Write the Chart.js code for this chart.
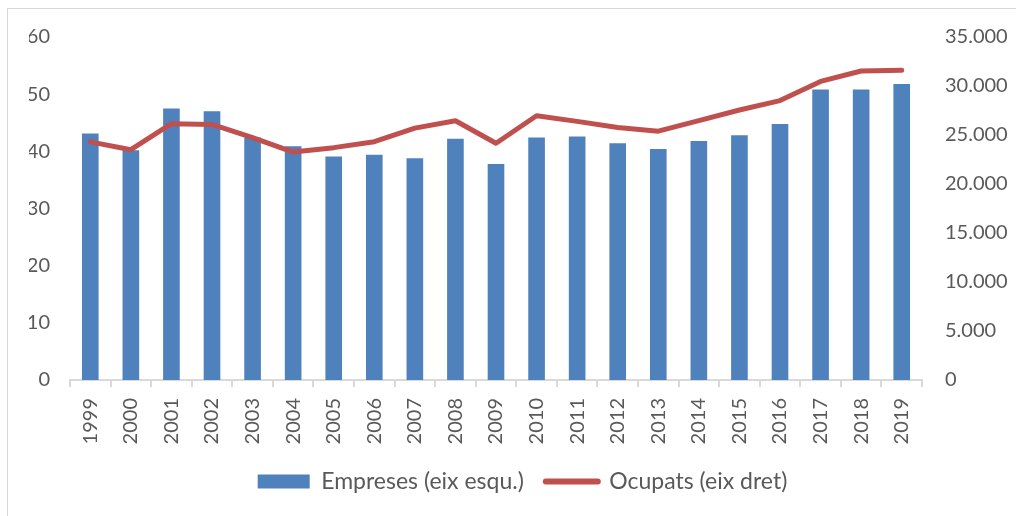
<!DOCTYPE html>
<html>
<head>
<meta charset="utf-8">
<script src="https://cdn.jsdelivr.net/npm/chart.js@4/dist/chart.umd.min.js"></script>
<style>
  body { margin: 0; background: #fff; overflow: hidden; }
  #wrap { position: relative; width: 1016px; height: 516px; }
  #frame { position: absolute; left: 7px; top: 8px; width: 1040px; height: 540px; border: 1px solid #d9d9d9; pointer-events: none; }
  canvas { position: absolute; left: 0; top: 0; }
</style>
</head>
<body>
<div id="wrap">
  <div id="frame"></div>
  <canvas id="myChart" width="1016" height="516"></canvas>
</div>
<script>
// Years on the category axis
const years = ["1999", "2000", "2001", "2002", "2003", "2004", "2005", "2006", "2007", "2008", "2009",
  "2010", "2011", "2012", "2013", "2014", "2015", "2016", "2017", "2018", "2019"];

// Empreses (left axis)
const empreses = [43.1, 40.2, 47.5, 47.0, 42.4, 40.9, 39.1, 39.4, 38.8, 42.2, 37.8,
  42.4, 42.6, 41.4, 40.4, 41.8, 42.8, 44.8, 50.8, 50.8, 51.8];

// Ocupats (right axis)
const ocupats = [24300, 23500, 26150, 26080, 24740, 23260, 23710, 24320, 25700, 26460, 24160,
  26970, 26390, 25770, 25390, 26460, 27550, 28510, 30470, 31530, 31600];

const labelColor = "#595959";
const axisColor = "#d9d9d9";
const font = { family: "Lato", size: 20 };

// 35000 -> "35.000"
const fmtThousands = (v) => String(v).replace(/\B(?=(\d{3})+(?!\d))/g, ".");

const chrt = document.getElementById("myChart");

new Chart(chrt, {
  data: {
    labels: years,
    datasets: [
      {
        type: "line",
        label: "Ocupats (eix dret)",
        data: ocupats,
        yAxisID: "y1",
        borderColor: "#C0504D",
        backgroundColor: "#C0504D",
        borderWidth: 5,
        borderCapStyle: "round",
        borderJoinStyle: "round",
        pointRadius: 0,
        tension: 0,
        order: 0,
      },
      {
        type: "bar",
        label: "Empreses (eix esqu.)",
        data: empreses,
        yAxisID: "y",
        backgroundColor: "#4F81BD",
        borderWidth: 0,
        barPercentage: 0.41,
        categoryPercentage: 1,
        order: 1,
      },
    ],
  },
  options: {
    responsive: false,
    animation: false,
    layout: { padding: { top: 37, left: 29, right: 0, bottom: 13 } },
    plugins: {
      tooltip: { enabled: false },
      legend: {
        position: "bottom",
        reverse: true,
        labels: {
          color: labelColor,
          font: { family: "Lato", size: 23 },
          usePointStyle: true,
          pointStyleWidth: 52,
          boxHeight: 14,
          padding: 22,
          generateLabels: (chart) => {
            const items = Chart.defaults.plugins.legend.labels.generateLabels(chart);
            items.forEach((it) => {
              const ds = chart.data.datasets[it.datasetIndex];
              if (ds.type === "line") {
                it.pointStyle = "line";
                it.lineWidth = 6;
                it.strokeStyle = "#C0504D";
                it.lineCap = "round";
              } else {
                it.pointStyle = "rect";
                it.lineWidth = 0;
              }
            });
            return items;
          },
        },
      },
    },
    scales: {
      x: {
        offset: true,
        grid: {
          offset: true,
          drawOnChartArea: false,
          drawTicks: true,
          tickLength: 7,
          color: axisColor,
          lineWidth: 2,
        },
        border: { color: axisColor, width: 2 },
        ticks: {
          color: labelColor,
          font: font,
          minRotation: 90,
          maxRotation: 90,
          padding: 11,
        },
        afterFit: (scale) => { scale.height = 68; },
      },
      y: {
        position: "left",
        min: 0,
        max: 60,
        grid: { display: false, drawTicks: false },
        border: { display: false },
        ticks: { stepSize: 10, color: labelColor, font: font, padding: 20 },
        afterFit: (scale) => { scale.width = 41; },
      },
      y1: {
        position: "right",
        min: 0,
        max: 35000,
        grid: { display: false, drawTicks: false },
        border: { display: false },
        ticks: {
          stepSize: 5000,
          color: labelColor,
          font: font,
          padding: 23,
          callback: (v) => fmtThousands(v),
        },
        afterFit: (scale) => { scale.width = 94; },
      },
    },
  },
});
</script>
</body>
</html>
